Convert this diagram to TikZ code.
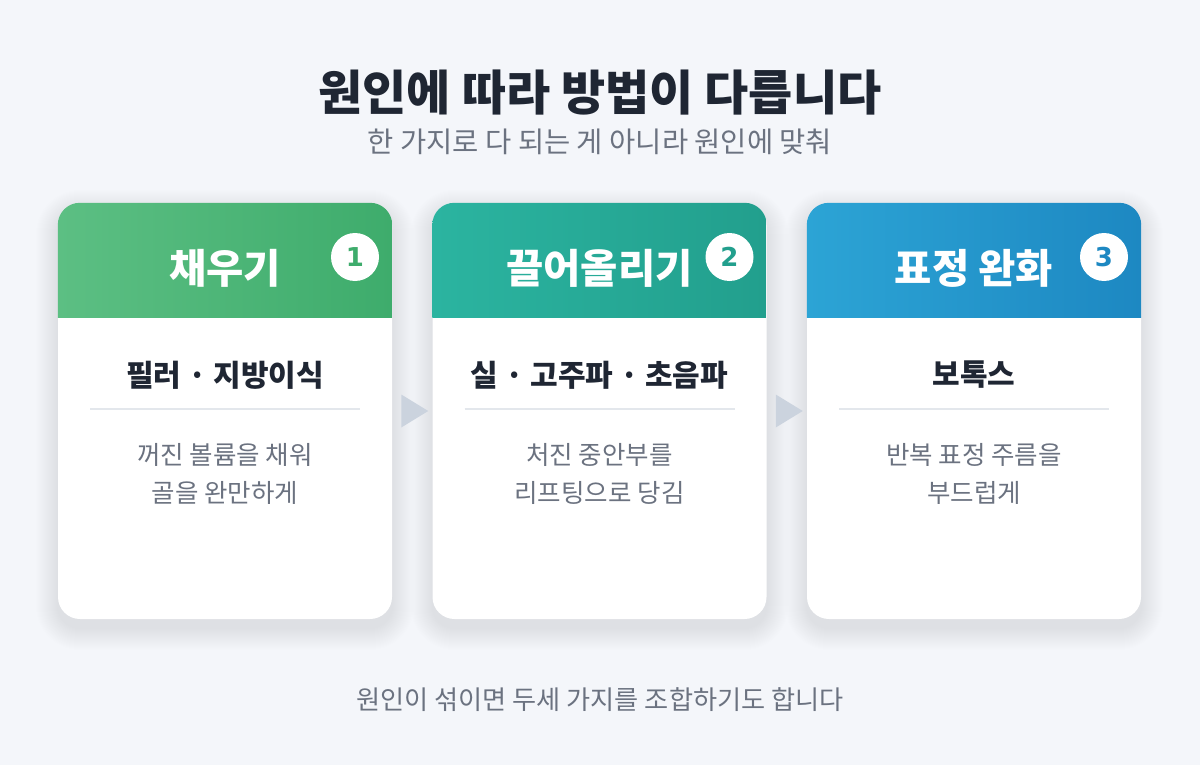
\documentclass[tikz,border=0pt]{standalone}
\usepackage{fontspec}
\setmainfont{Noto Sans CJK KR}
\newfontfamily\numfont{DejaVu Sans}
\usetikzlibrary{positioning,calc}
\definecolor{bgpage}{HTML}{F4F6FA}
\definecolor{inkdark}{HTML}{1F2633}
\definecolor{inkgray}{HTML}{6B7280}
\definecolor{rulegray}{HTML}{E3E7EC}
\definecolor{arrowgray}{HTML}{CBD3DE}
\definecolor{fillL}{HTML}{5CBF83}
\definecolor{fillR}{HTML}{3EAC6C}
\definecolor{liftL}{HTML}{2BB4A0}
\definecolor{liftR}{HTML}{229F8D}
\definecolor{relaxL}{HTML}{2CA4D5}
\definecolor{relaxR}{HTML}{1D88C2}
\tikzset{
  card/.style={rounded corners=22pt, fill=white, minimum width=334pt, minimum height=416pt, inner sep=0pt},
  headtitle/.style={text=white, font=\fontsize{40.5}{44}\selectfont\bfseries},
  badge/.style={circle, fill=white, minimum size=48pt, inner sep=0pt, font=\numfont\bfseries\fontsize{26}{28}\selectfont},
  method/.style={text=inkdark, font=\fontsize{30}{34}\selectfont\bfseries},
  note/.style={text=inkgray, font=\fontsize{25.5}{38}\selectfont, align=center},
  flowtip/.style={fill=arrowgray},
}
\begin{document}
\begin{tikzpicture}[x=1pt,y=-1pt]
  \useasboundingbox (0,0) rectangle (1200,765);
  \fill[bgpage] (0,0) rectangle (1200,765);
  % heading
  \node[text=inkdark, font=\fontsize{48}{52}\selectfont\bfseries] (title) at (600,93) {원인에 따라 방법이 다릅니다};
  \node[text=inkgray, font=\fontsize{28.5}{32}\selectfont] (subtitle) at (600,142) {한 가지로 다 되는 게 아니라 원인에 맞춰};
  % cards
  \foreach \cx/\i/\head/\meth/\lineA/\lineB/\cl/\cd in {
      225/1/{채우기}/{필러 · 지방이식}/{꺼진 볼륨을 채워}/{골을 완만하게}/fillL/fillR,
      599.5/2/{끌어올리기}/{실 · 고주파 · 초음파}/{처진 중안부를}/{리프팅으로 당김}/liftL/liftR,
      974/3/{표정 완화}/{보톡스}/{반복 표정 주름을}/{부드럽게}/relaxL/relaxR}{
    \foreach \s in {1,...,22}{
      \pgfmathsetmacro{\r}{22+\s}
      \fill[black, opacity=0.0045, rounded corners=\r pt]
        (\cx-167-\s,203-\s+9) rectangle (\cx+167+\s,619+\s+9);
    }
    \node[card] (card\i) at (\cx,411) {};
    \begin{scope}
      \clip[rounded corners=22pt] (card\i.north west) rectangle (card\i.south east);
      \shade[left color=\cl, right color=\cd] (card\i.north west) rectangle ($(card\i.north east)+(0,115)$);
    \end{scope}
    \node[headtitle] (head\i) at (\cx,268) {\head};
    \node[badge, text=\cd] (num\i) at (\cx+130,257) {\i};
    \node[method] (meth\i) at (\cx,375) {\meth};
    \draw[rulegray, line width=1.5pt] (\cx-135,409) -- (\cx+135,409);
    \node[note] (note\i) at (\cx,474) {\lineA\\\lineB};
  }
  % arrows between cards
  \foreach \i/\j in {1/2,2/3}{
    \coordinate (gap\i) at ($(card\i.east)!0.5!(card\j.west)$);
    \fill[flowtip] ([shift={(-11,-16.5)}]gap\i) -- ([shift={(16,0)}]gap\i) -- ([shift={(-11,16.5)}]gap\i) -- cycle;
  }
  % footer
  \node[text=inkgray, font=\fontsize{26.2}{30}\selectfont] (footer) at (600,700) {원인이 섞이면 두세 가지를 조합하기도 합니다};
\end{tikzpicture}
\end{document}
